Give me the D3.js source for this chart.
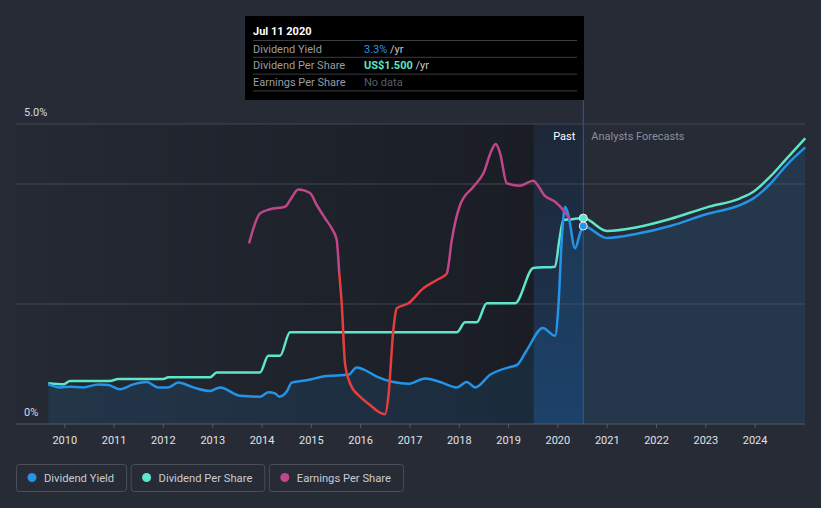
<!DOCTYPE html>
<html>
<head>
<meta charset="utf-8">
<script src="https://cdn.jsdelivr.net/npm/d3@7"></script>
<style>
  body { margin: 0; background: #262b36; }
  svg { display: block; font-family: Roboto, "Noto Sans", sans-serif; }
</style>
</head>
<body>
<div id="main"></div>
<script>
const Width = 821, Height = 508;

// [decimal year, value]
const yieldData = [
  [2009.675, 0.66], [2009.913, 0.61], [2010.116, 0.62], [2010.385, 0.61], [2010.69, 0.66],
  [2010.892, 0.65], [2011.13, 0.58], [2011.4, 0.66], [2011.671, 0.70], [2011.907, 0.61],
  [2012.11, 0.61], [2012.312, 0.69], [2012.617, 0.61], [2012.955, 0.55], [2013.158, 0.61],
  [2013.563, 0.47], [2013.969, 0.455], [2014.138, 0.53], [2014.274, 0.51], [2014.361, 0.455],
  [2014.511, 0.54], [2014.613, 0.69], [2014.917, 0.73], [2015.323, 0.80], [2015.761, 0.82],
  [2015.931, 0.94], [2016.065, 0.91], [2016.337, 0.79], [2016.673, 0.70], [2016.978, 0.67],
  [2017.316, 0.76], [2017.621, 0.70], [2017.959, 0.61], [2018.162, 0.70], [2018.331, 0.61],
  [2018.635, 0.82], [2019.041, 0.95], [2019.176, 0.98], [2019.379, 1.23], [2019.704, 1.60],
  [2019.953, 1.47], [2020.02, 1.95], [2020.089, 3.07], [2020.156, 3.62], [2020.223, 3.48],
  [2020.359, 2.93], [2020.46, 3.18], [2020.525, 3.30],
  [2021.002, 3.10], [2021.61, 3.17], [2022.286, 3.30], [2023.03, 3.50], [2023.706, 3.65],
  [2023.976, 3.76], [2024.314, 4.00], [2024.653, 4.32], [2025.024, 4.61]
];

const dpsData = [
  [2009.675, 0.296], [2009.98, 0.289], [2010.116, 0.313], [2010.927, 0.313], [2011.095, 0.328],
  [2012.008, 0.328], [2012.11, 0.340], [2012.955, 0.340], [2013.091, 0.376], [2013.969, 0.376],
  [2014.138, 0.497], [2014.375, 0.497], [2014.578, 0.668], [2017.959, 0.668], [2018.128, 0.741],
  [2018.365, 0.741], [2018.568, 0.879], [2019.142, 0.879], [2019.513, 1.136], [2019.953, 1.146],
  [2020.04, 1.34], [2020.122, 1.486], [2020.258, 1.49], [2020.525, 1.50],
  [2021.002, 1.406], [2021.61, 1.433], [2022.286, 1.493], [2023.03, 1.578], [2023.706, 1.644],
  [2023.976, 1.692], [2024.314, 1.801], [2024.653, 1.935], [2025.024, 2.081]
];

const epsData = [
  [2013.746, 3.01], [2013.969, 3.51], [2014.172, 3.58], [2014.477, 3.62], [2014.578, 3.73],
  [2014.746, 3.91], [2014.984, 3.85], [2015.12, 3.65], [2015.288, 3.43], [2015.424, 3.26],
  [2015.525, 3.07], [2015.578, 2.51], [2015.627, 2.01], [2015.694, 1.01], [2015.795, 0.68],
  [2015.998, 0.455], [2016.201, 0.317], [2016.369, 0.205], [2016.505, 0.162], [2016.572, 0.455],
  [2016.673, 1.567], [2016.742, 1.928], [2016.978, 2.012], [2017.282, 2.262], [2017.554, 2.40],
  [2017.757, 2.51], [2017.858, 3.067], [2018.026, 3.65], [2018.296, 3.955], [2018.499, 4.178],
  [2018.669, 4.567], [2018.75, 4.667], [2018.838, 4.512], [2018.974, 4.012], [2019.243, 3.972],
  [2019.507, 4.055], [2019.751, 3.80], [2019.953, 3.705], [2020.089, 3.595], [2020.258, 3.412]
];

const yearTicks = [2010, 2011, 2012, 2013, 2014, 2015, 2016, 2017, 2018, 2019, 2020, 2021, 2022, 2023, 2024];
const yieldGrid = [5, 4, 2];
const hoverYear = 2020.525, bandStart = 2019.52;
const epsRedBelow = 2.5;
const legendItems = [
  {name: "Dividend Yield", color: "#2394e8"},
  {name: "Dividend Per Share", color: "#5de6c9"},
  {name: "Earnings Per Share", color: "#c0468a"}
];
const tipRows = [
  {label: "Dividend Yield", value: "3.3%", color: "#2394e8", unit: " /yr"},
  {label: "Dividend Per Share", value: "US$1.500", color: "#5de6c9", unit: " /yr"},
  {label: "Earnings Per Share", value: "No data", color: "#5a5e66", unit: ""}
];

function toDate(y) {
  const yr = Math.floor(y);
  const start = new Date(yr, 0, 1), end = new Date(yr + 1, 0, 1);
  return new Date(+start + (y - yr) * (end - start));
}

const margin = {left: 16, right: 16, top: 124, bottom: 84};
const plotBottom = Height - margin.bottom;

const x = d3.scaleTime().domain([toDate(2009.02), toDate(2025.02)]).range([margin.left, Width - margin.right]);
const yYield = d3.scaleLinear().domain([0, 5]).range([plotBottom, margin.top]);
const yDps = d3.scaleLinear().domain([0, 2.185]).range([plotBottom, margin.top]);
const yEps = d3.scaleLinear().domain([0, 5]).range([plotBottom, margin.top]);

const svg = d3.select("#main").append("svg")
    .attr("width", Width)
    .attr("height", Height);

const defs = svg.append("defs");
const pastGrad = defs.append("linearGradient").attr("id", "pastGrad");
pastGrad.append("stop").attr("offset", "0%").attr("stop-color", "#000").attr("stop-opacity", 0.04);
pastGrad.append("stop").attr("offset", "100%").attr("stop-color", "#000").attr("stop-opacity", 0.33);
const bandGrad = defs.append("linearGradient").attr("id", "bandGrad")
    .attr("x1", 0).attr("y1", 0).attr("x2", 0).attr("y2", 1);
bandGrad.append("stop").attr("offset", "0%").attr("stop-color", "#1b4f8f").attr("stop-opacity", 0.12);
bandGrad.append("stop").attr("offset", "100%").attr("stop-color", "#1b4f8f").attr("stop-opacity", 0.45);

svg.append("rect").attr("width", Width).attr("height", Height).attr("fill", "#262b36");

const bx0 = x(toDate(bandStart)), hx = x(toDate(hoverYear));

// past region + highlight band
svg.append("rect")
    .attr("x", margin.left).attr("y", margin.top)
    .attr("width", bx0 - margin.left).attr("height", plotBottom - margin.top)
    .attr("fill", "url(#pastGrad)");
svg.append("rect")
    .attr("x", bx0).attr("y", margin.top)
    .attr("width", hx - bx0).attr("height", plotBottom - margin.top)
    .attr("fill", "#000").attr("fill-opacity", 0.2);
svg.append("rect")
    .attr("x", bx0).attr("y", margin.top)
    .attr("width", hx - bx0).attr("height", plotBottom - margin.top)
    .attr("fill", "url(#bandGrad)");

// grid
svg.append("g").selectAll("line").data(yieldGrid).join("line")
    .attr("x1", margin.left).attr("x2", Width - margin.right)
    .attr("y1", d => yYield(d)).attr("y2", d => yYield(d))
    .attr("stroke", "#424753").attr("stroke-width", 1);

svg.append("text").attr("x", 24).attr("y", yYield(5) - 8)
    .attr("fill", "#d8dbe0").attr("font-size", 11).text("5.0%");
svg.append("text").attr("x", 24).attr("y", yYield(0) - 8)
    .attr("fill", "#d8dbe0").attr("font-size", 11).text("0%");

// area under yield
svg.append("path").datum(yieldData)
    .attr("d", d3.area().curve(d3.curveMonotoneX)
        .x(d => x(toDate(d[0]))).y0(plotBottom).y1(d => yYield(d[1])))
    .attr("fill", "#2394e8").attr("fill-opacity", 0.12);

// x axis
const xAxis = svg.append("g")
    .attr("transform", `translate(0, ${plotBottom})`)
    .call(d3.axisBottom(x).tickValues(yearTicks.map(y => toDate(y))).tickFormat(d3.timeFormat("%Y")).tickSize(4).tickPadding(8));
xAxis.select(".domain").attr("stroke", "#555a65").attr("d", `M${margin.left},0H${Width - margin.right}`);
xAxis.selectAll(".tick line").attr("stroke", "#555a65");
xAxis.selectAll("text").attr("fill", "#e0e2e6").attr("font-size", 11).attr("font-family", "Roboto, sans-serif");

// hover line
svg.append("line")
    .attr("x1", hx).attr("x2", hx)
    .attr("y1", 100).attr("y2", plotBottom)
    .attr("stroke", "#2a5d9c").attr("stroke-width", 1);

const lineOf = yScale => d3.line().curve(d3.curveMonotoneX)
    .x(d => x(toDate(d[0]))).y(d => yScale(d[1]));

svg.append("path").datum(dpsData).attr("d", lineOf(yDps))
    .attr("fill", "none").attr("stroke", "#5de6c9").attr("stroke-width", 2.5);
svg.append("path").datum(yieldData).attr("d", lineOf(yYield))
    .attr("fill", "none").attr("stroke", "#2394e8").attr("stroke-width", 2.5);

// EPS: pink above threshold, red below
const thrY = yEps(epsRedBelow);
defs.append("clipPath").attr("id", "clipTop").append("rect")
    .attr("x", 0).attr("y", 0).attr("width", Width).attr("height", thrY);
defs.append("clipPath").attr("id", "clipBottom").append("rect")
    .attr("x", 0).attr("y", thrY).attr("width", Width).attr("height", Height - thrY);
svg.append("path").datum(epsData).attr("d", lineOf(yEps))
    .attr("fill", "none").attr("stroke", "#c0468a").attr("stroke-width", 2.5)
    .attr("clip-path", "url(#clipTop)");
svg.append("path").datum(epsData).attr("d", lineOf(yEps))
    .attr("fill", "none").attr("stroke", "#e53e3e").attr("stroke-width", 2.5)
    .attr("clip-path", "url(#clipBottom)");

// hover dots
svg.append("circle").attr("cx", hx).attr("cy", yYield(3.3)).attr("r", 4)
    .attr("fill", "#2394e8").attr("stroke", "#e8eef5").attr("stroke-width", 1);
svg.append("circle").attr("cx", hx).attr("cy", yDps(1.5)).attr("r", 4)
    .attr("fill", "#5de6c9").attr("stroke", "#e8eef5").attr("stroke-width", 1);

// Past / Analysts Forecasts
svg.append("text").attr("x", hx - 8).attr("y", 140).attr("text-anchor", "end")
    .attr("fill", "#ffffff").attr("font-size", 11).text("Past");
svg.append("text").attr("x", hx + 8).attr("y", 140)
    .attr("fill", "#8b909a").attr("font-size", 11).text("Analysts Forecasts");

// tooltip
const tip = svg.append("g");
tip.append("rect").attr("x", 245).attr("y", 16).attr("width", 339).attr("height", 84).attr("fill", "#000");
tip.append("text").attr("x", 253).attr("y", 35).attr("fill", "#fff")
    .attr("font-size", 11).attr("font-weight", "bold").text("Jul 11 2020");
tip.selectAll("line").data([0, 1, 2, 3]).join("line")
    .attr("x1", 253).attr("x2", 577)
    .attr("y1", d => 40.5 + d * 16.8).attr("y2", d => 40.5 + d * 16.8)
    .attr("stroke", "#3a3d44").attr("stroke-width", 1);
const row = tip.selectAll("g.row").data(tipRows).join("g").attr("class", "row");
row.append("text").attr("x", 253).attr("y", (d, i) => 52.5 + i * 16.8)
    .attr("fill", "#9a9da3").attr("font-size", 11).text(d => d.label);
const val = row.append("text").attr("x", 364).attr("y", (d, i) => 52.5 + i * 16.8).attr("font-size", 11);
val.append("tspan").attr("fill", d => d.color).attr("font-weight", (d, i) => i === 1 ? "bold" : "normal").text(d => d.value);
val.append("tspan").attr("fill", "#c8cacf").text(d => d.unit);

// legend
const legend = svg.append("g");
let lx = 16;
legendItems.forEach(item => {
  const g = legend.append("g").attr("transform", `translate(${lx}, 464)`);
  const t = g.append("text").attr("x", 28).attr("y", 17.5)
      .attr("fill", "#c9ccd2").attr("font-size", 11.2).text(item.name);
  const w = t.node().getComputedTextLength() + 40;
  g.insert("rect", "text").attr("x", 0.5).attr("y", 0.5).attr("width", w).attr("height", 27)
      .attr("rx", 3).attr("fill", "none").attr("stroke", "#4a4f5a");
  g.append("circle").attr("cx", 16).attr("cy", 13.5).attr("r", 4.5).attr("fill", item.color);
  lx += w + 4.5;
});
</script>
</body>
</html>
